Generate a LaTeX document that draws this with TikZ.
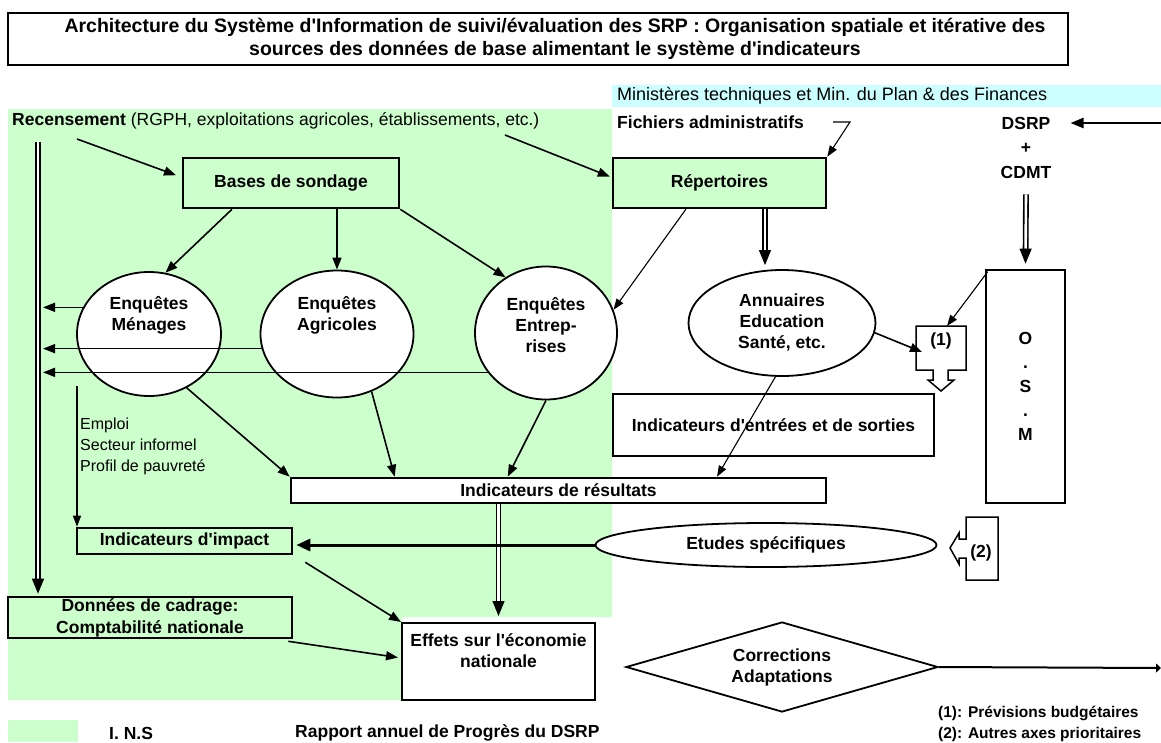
\documentclass[tikz,border=0pt]{standalone}
\usepackage{fontspec}
\setmainfont{Liberation Sans}[Ligatures=TeXOff]
\usetikzlibrary{shapes.geometric,arrows.meta,calc}
\definecolor{insgreen}{RGB}{204,255,204}
\definecolor{mincyan}{RGB}{204,255,255}
\newcommand\mainsz{\fontsize{17.5}{21}\selectfont}
\newcommand\smallsz{\fontsize{16}{21}\selectfont}
\newcommand\legsz{\fontsize{15.5}{20}\selectfont}
\tikzset{
  lbl/.style={font=\mainsz\bfseries, align=center, inner sep=0pt},
  box/.style={lbl, draw, line width=2.6pt},
  oval/.style={lbl, ellipse, draw, line width=1.8pt, fill=white},
  arr/.style={-{Triangle[length=12pt,width=9pt]}, line width=1.6pt},
  thickarr/.style={-{Triangle[length=14pt,width=12pt]}, line width=3pt},
  thinarr/.style={-{Triangle[length=11pt,width=8pt]}, line width=1.1pt},
  dblline/.style={double, double distance=2.6pt, line width=1.6pt},
  dbltip/.style={-{Triangle[length=15pt,width=12pt]}, line width=1pt},
  blockarrow/.style={line width=1.5pt, fill=white, line join=miter}
}
\begin{document}
\begin{tikzpicture}[x=1pt,y=-1pt]
\useasboundingbox (0,0) rectangle (1161,742);
% backgrounds
\fill[insgreen] (8,109) -- (612,109) -- (612,617) -- (402,617) -- (402,700) -- (8,700) -- cycle;
\fill[mincyan] (612,85) rectangle (1161,107);
\fill[insgreen] (8,720) rectangle (78,742);

% title
\node[draw, line width=2.6pt, minimum width=1060, minimum height=52,
  label={[lbl, font=\fontsize{19.5}{23}\selectfont\bfseries, xshift=17pt]center:Architecture du Système d'Information de suivi/évaluation des SRP : Organisation spatiale et itérative des\\sources des données de base alimentant le système d'indicateurs}]
  (title) at (538,39) {};

% plain texts
\node[anchor=west, inner sep=0pt, font=\mainsz] (rec) at (12,121) {\textbf{Recensement} (RGPH, exploitations agricoles, établissements, etc.)};
\node[anchor=west, inner sep=0pt, font=\fontsize{18}{21}\selectfont] (mins) at (617,96) {Ministères techniques et Min. du Plan \& des Finances};
\node[anchor=west, lbl] (fich) at (617,122) {Fichiers administratifs};
\node[lbl] (dsrp) at (1026,123) {DSRP};
\node[lbl] (plus) at (1026,148) {+};
\node[lbl] (cdmt) at (1026,172) {CDMT};
\node[anchor=west, align=left, inner sep=0pt, font=\smallsz] (emp) at (80,446) {Emploi\\Secteur informel\\Profil de pauvreté};

% boxes
\node[box, fill=insgreen, minimum width=216, minimum height=50] (bases) at (291,183) {Bases de sondage};
\node[box, fill=insgreen, minimum width=213, minimum height=50] (rep) at (719.5,183) {Répertoires};
\node[box, fill=white, minimum width=79, minimum height=233, font=\fontsize{17.5}{24}\selectfont\bfseries] (osm) at (1025.5,386.5) {O\\.\\S\\.\\M};
\node[box, fill=white, minimum width=321, minimum height=62] (io) at (773.5,425) {Indicateurs d'entrées et de sorties};
\node[box, fill=white, minimum width=535, minimum height=25] (res) at (558.5,490.5) {Indicateurs de résultats};
\node[box, fill=insgreen, minimum width=215, minimum height=26] (imp) at (184.5,541) {Indicateurs d'impact};
\node[box, fill=insgreen, minimum width=284, minimum height=41, font=\fontsize{17.5}{22}\selectfont\bfseries] (don) at (150,617.5) {Données de cadrage:\\Comptabilité nationale};
\node[box, line width=2pt, fill=white, minimum width=193, minimum height=77] (eff) at (498.5,661.5) {Effets sur l'économie\\nationale\\~};

% ovals
\node[oval, minimum width=144, minimum height=124, label={[lbl, yshift=19pt]center:Enquêtes\\Ménages}] (men) at (149,334) {};
\node[oval, minimum width=153, minimum height=127, label={[lbl, yshift=19pt]center:Enquêtes\\Agricoles}] (agr) at (337,334) {};
\node[oval, minimum width=142, minimum height=133, label={[lbl, yshift=8pt]center:Enquêtes\\Entrep-\\rises}] (ent) at (546,333) {};
\node[oval, minimum width=187, minimum height=106] (ann) at (782,323) {Annuaires\\Education\\Santé, etc.};
\node[oval, minimum width=341, minimum height=44] (etu) at (766,545) {Etudes spécifiques};
\node[lbl, diamond, draw, line width=1.8pt, fill=white, aspect=3.47, minimum width=312, minimum height=90] (cor) at (782,667) {Corrections\\Adaptations};

% block arrows (1) and (2)
\draw[blockarrow] (916,326) -- (966,326) -- (966,370) -- (948,370) -- (948,380) -- (954,380) -- (941,391) -- (928,380) -- (933,380) -- (933,370) -- (916,370) -- cycle;
\node[lbl] (one) at (941,341) {(1)};
\draw[blockarrow] (966,517) -- (998,517) -- (998,580) -- (966,580) -- (966,558) -- (959,558) -- (959,564) -- (950,548) -- (959,533) -- (959,539) -- (966,539) -- cycle;
\node[lbl] (two) at (981,553) {(2)};
\coordinate (oneTop) at (947,326);
\coordinate (oneLeft) at (922,352);

% legend
\node[anchor=west, lbl] (ins) at (109,733) {I. N.S};
\node[anchor=west, lbl] (rap) at (295,733) {Rapport annuel de Progrès du DSRP};
\node[anchor=west, inner sep=0pt, font=\legsz\bfseries] (leg1) at (938,713) {(1): Prévisions budgétaires};
\node[anchor=west, inner sep=0pt, font=\legsz\bfseries] (leg2) at (938,734) {(2): Autres axes prioritaires};

% connectors
\coordinate (recA) at (77,139);
\coordinate (recB) at (505,135);
\draw[arr, shorten >=6pt] (recA) -- (bases.177);
\draw[arr, shorten >=2pt] (recB) -- (rep.177);
\coordinate (fichA) at (833,122);
\coordinate (fichB) at (850,122);
\draw[thinarr] (fichA) -- (fichB) -- (rep.north east);
\coordinate (dsrpIn) at (1161,123);
\draw[-{Triangle[length=13pt,width=10pt]}, line width=2.4pt, shorten >=20pt] (dsrpIn) -- (dsrp.east);

\draw[arr] (bases.204) -- (men.75);
\draw[arr] (agr.north |- bases.south) -- (agr.north);
\draw[arr] (bases.south east) -- (ent.126);
\draw[thinarr] (rep.218) -- (ent.19);

% double arrows
\coordinate (ra1) at ($(rep.south)+(45.5,0)$);
\coordinate (ra2) at ($(ann.north)+(-17,-4)$);
\draw[dblline, shorten >=12pt] (ra1) -- (ra2);
\draw[dbltip] ($(ra2)!15pt!(ra1)$) -- (ra2);

\coordinate (co1) at ($(cdmt.south)+(0,16)$);
\coordinate (co2) at ($(osm.north)+(0,-5)$);
\draw[dblline, shorten >=12pt] (co1) -- (co2);
\draw[dbltip] ($(co2)!15pt!(co1)$) -- (co2);

\coordinate (re1) at (res.south -| eff.north);
\coordinate (re2) at ($(eff.north)+(0,-6)$);
\draw[dblline, shorten >=12pt] (re1) -- (re2);
\draw[dbltip] ($(re2)!15pt!(re1)$) -- (re2);

\coordinate (lt1) at (38,142);
\coordinate (lt2) at ($(lt1 |- don.north)+(0,-2)$);
\draw[dblline, shorten >=12pt] (lt1) -- (lt2);
\draw[dbltip] ($(lt2)!15pt!(lt1)$) -- (lt2);

% arrows to the left bar
\coordinate (bar) at (43,300);
\draw[arr] (men.158) -- (men.158 -| bar);
\draw[arr] (agr.191) -- (agr.191 -| bar);
\draw[arr] (ent.214) -- (ent.214 -| bar);

% (1)
\draw[thinarr] ($(osm.north west)+(3,3)$) -- (oneTop);
\draw[arr] (ann.-6) -- (oneLeft);
\draw[thinarr] (ann.263) -- ($(res.north)+(158.5,0)$);

% emploi
\coordinate (empA) at (77,386);
\draw[thinarr, line width=1.4pt] (empA) -- (empA |- imp.north);

% to resultats
\draw[arr] (men.-55) -- (res.north west);
\draw[arr] (agr.-59) -- ($(res.north west)+(105,0)$);
\draw[arr] (ent.-90) -- ($(res.north west)+(218,0)$);

% lower part
\draw[thickarr, shorten >=3pt] (etu.west) -- (etu.west -| imp.east);
\draw[arr] ($(imp.south east)+(12,7)$) -- (eff.north west);
\draw[arr] ($(don.south east)+(-5,2)$) -- ($(eff.west)+(-3,-4)$);
\coordinate (corOut) at (1161,668);
\draw[line width=2pt, -{Triangle[length=5pt,width=9pt]}] (cor.east) -- (corOut);
\end{tikzpicture}
\end{document}
